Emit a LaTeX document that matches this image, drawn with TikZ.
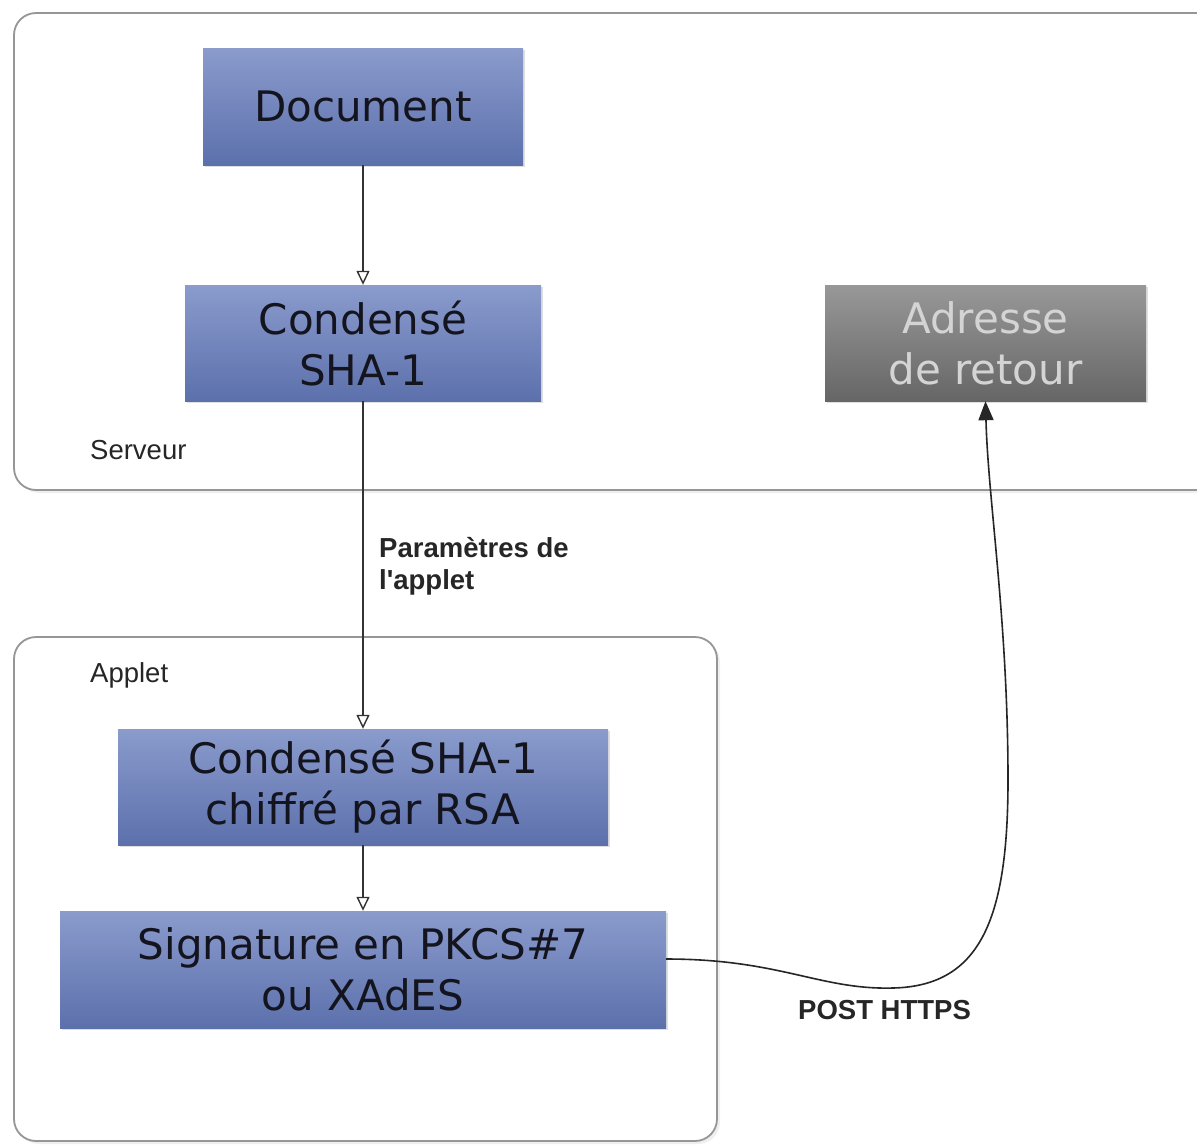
\documentclass[tikz,border=0pt]{standalone}
\usepackage{fontspec}
\setmainfont{DejaVu Sans}
\newfontfamily\lblfont{Liberation Sans}
\usetikzlibrary{arrows.meta,shadows}
\definecolor{blueTop}{RGB}{138,155,204}
\definecolor{blueBot}{RGB}{92,112,172}
\definecolor{grayTop}{RGB}{152,152,152}
\definecolor{grayBot}{RGB}{102,102,102}
\definecolor{grayTxt}{RGB}{212,212,212}
\definecolor{frameCol}{RGB}{150,150,150}
\definecolor{txtCol}{RGB}{20,20,30}
\tikzset{
  container/.style={draw=frameCol, line width=1.8pt, rounded corners=22pt, fill=white,
    drop shadow={opacity=0.12, shadow xshift=3pt, shadow yshift=-3pt}},
  bluebox/.style={rectangle, top color=blueTop, bottom color=blueBot, draw=none,
    align=center, text=txtCol, font=\fontsize{42}{51}\selectfont,
    drop shadow={opacity=0.25, shadow xshift=2pt, shadow yshift=-2pt}},
  graybox/.style={rectangle, top color=grayTop, bottom color=grayBot, draw=none,
    align=center, text=grayTxt, font=\fontsize{42}{51}\selectfont,
    drop shadow={opacity=0.25, shadow xshift=2pt, shadow yshift=-2pt}},
  frametag/.style={anchor=west, inner sep=0pt, font=\lblfont\fontsize{27.5}{32}\selectfont, text=black!85},
  edgetag/.style={anchor=north west, inner sep=0pt, align=left, font=\lblfont\bfseries\fontsize{27.5}{32}\selectfont, text=black!85},
  flow/.style={draw=black!80, line width=1.4pt, -{Triangle[open, width=13pt, length=14pt, line width=1.4pt]}},
  ret/.style={draw=black!85, line width=1.6pt, -{Triangle[width=15pt, length=19pt]}},
}
\begin{document}
\begin{tikzpicture}[x=1pt, y=-1pt]
\useasboundingbox (0,0) rectangle (1197,1144);
\clip (0,0) rectangle (1197,1144);
\fill[white] (0,0) rectangle (1197,1144);
% containers
\draw[container] (14,13) rectangle (1225,490);
\draw[container] (14,637) rectangle (717,1141);
\node[frametag] (serveur) at (90,450) {Serveur};
\node[frametag] (applet) at (90,675) {Applet};
% boxes
\node[bluebox, minimum width=320pt, minimum height=117pt] (doc) at (363,106.5) {Document};
\node[bluebox, minimum width=356pt, minimum height=116pt] (sha) at (363,343) {Condensé\\SHA-1};
\node[graybox, minimum width=321pt, minimum height=116pt] (adr) at (985.5,343) {Adresse\\de retour};
\node[bluebox, minimum width=490pt, minimum height=116pt] (rsa) at (363,787) {Condensé SHA-1\\chiffré par RSA};
\node[bluebox, minimum width=606pt, minimum height=117pt] (sig) at (363,969.5) {Signature en PKCS\#7\\ou XAdES};
% connectors
\draw[flow] (doc.south) -- (sha.north);
\draw[flow] (sha.south) -- (rsa.north);
\draw[flow] (rsa.south) -- (sig.north);
\coordinate (dip) at (893,988);
\coordinate (bulge) at (1008,780);
\draw[ret] (sig.east |- 0,959) .. controls (780,959) and (820,990) .. (dip)
  .. controls (980,986) and (1008,920) .. (bulge)
  .. controls (1008,620) and (988,500) .. (adr.south);
% labels
\node[edgetag] (param) at (379,537) {Paramètres de\\l'applet};
\node[edgetag] (post) at (798,1000) {POST HTTPS};
\end{tikzpicture}
\end{document}
